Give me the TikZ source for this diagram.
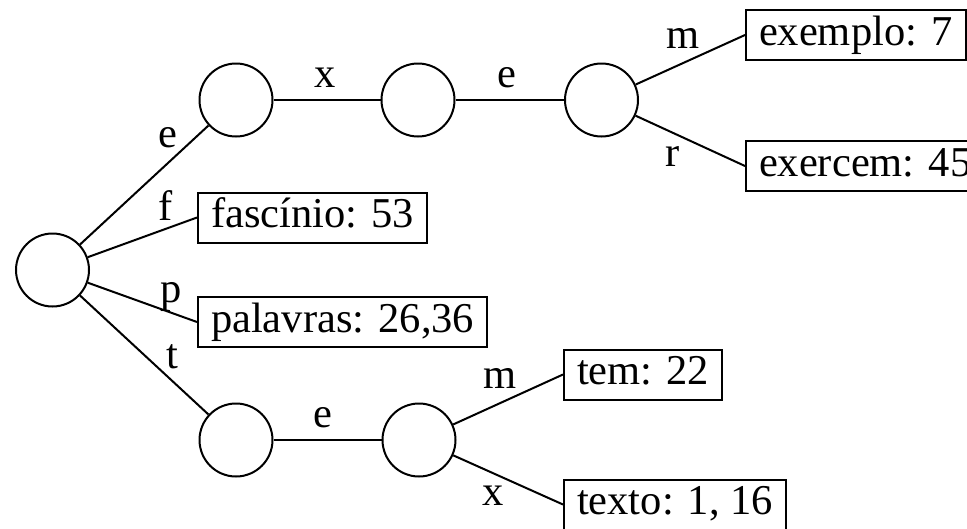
\documentclass[tikz,border=0pt]{standalone}
\usepackage{fontspec}
\setmainfont{Liberation Serif}
\usepackage{tikz}

\begin{document}
\begin{tikzpicture}[x=1pt,y=-1pt,line width=2pt,
  every node/.style={font=\fontsize{42.5}{50}\selectfont},
  st/.style={draw,circle,minimum size=73pt,inner sep=0pt},
  leaf/.style={draw,rectangle,anchor=west,inner xsep=13pt,inner ysep=6pt,text height=29pt,text depth=9pt},
  lbl/.style={anchor=base,inner sep=0pt}]
\useasboundingbox (0,0) rectangle (967,528);
\clip (0,0) rectangle (967,528);
\node[st] (r) at (52.5,270) {};
\node[st] (e) at (236,100) {};
\node[st] (ex) at (418,100) {};
\node[st] (exe) at (601.5,100) {};
\node[st] (t) at (236,440) {};
\node[st] (te) at (419,440) {};
\node[leaf] (exemplo) at (745,35) {exemplo: 7};
\node[leaf] (exercem) at (745,166) {exercem: 45};
\node[leaf] (fascinio) at (197,217.5) {fascínio: 53};
\node[leaf] (palavras) at (197,322) {palavras: 26,36};
\node[leaf] (tem) at (563,374.5) {tem: 22};
\node[leaf] (texto) at (563,504.5) {texto: 1, 16};
\draw (r) -- (e);
\draw (r) -- (fascinio.west);
\draw (r) -- (palavras.west);
\draw (r) -- (t);
\draw (e) -- (ex);
\draw (ex) -- (exe);
\draw (exe) -- (exemplo.west);
\draw (exe) -- (exercem.west);
\draw (t) -- (te);
\draw (te) -- (tem.west);
\draw (te) -- (texto.west);
\node[lbl] (le) at (168,147) {e};
\node[lbl] (lf) at (166,220) {f};
\node[lbl] (lp) at (171,302) {p};
\node[lbl] (lt) at (172,368) {t};
\node[lbl] (lx) at (325,87) {x};
\node[lbl] (lxe) at (507,87) {e};
\node[lbl] (lm) at (683,48) {m};
\node[lbl] (lr) at (673,166) {r};
\node[lbl] (lte) at (323,427) {e};
\node[lbl] (ltm) at (500,388) {m};
\node[lbl] (ltx) at (493,505) {x};
\end{tikzpicture}
\end{document}
